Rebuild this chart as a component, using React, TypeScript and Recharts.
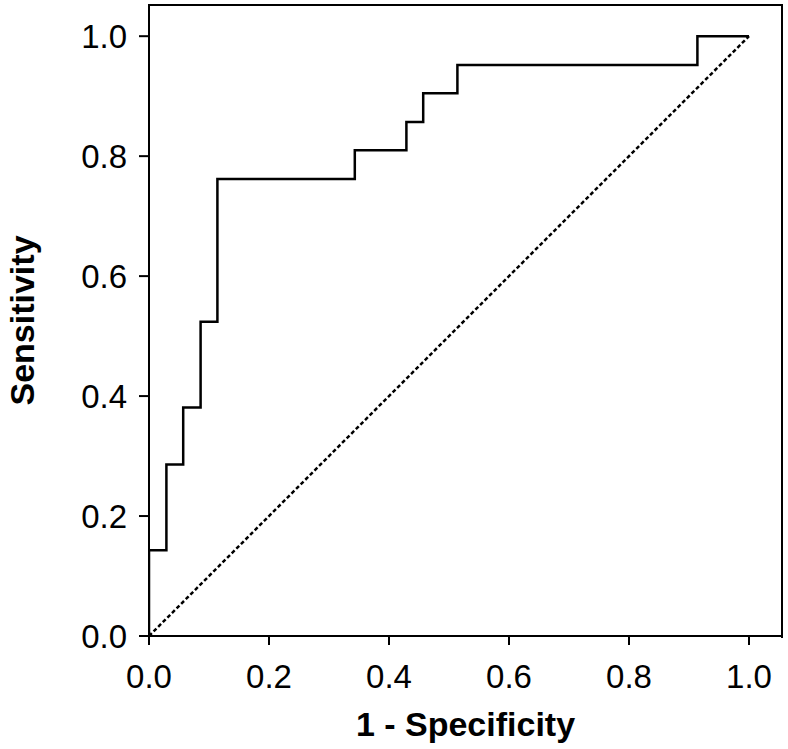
import React from 'react';
import { LineChart, Line, XAxis, YAxis, Label } from 'recharts';

// ROC curve points (1 - specificity, sensitivity)
const fpr = [0, 0, 0.029, 0.057, 0.086, 0.114, 0.343, 0.429, 0.457, 0.514, 0.914, 1.0];
const tpr = [0, 0.143, 0.286, 0.381, 0.524, 0.762, 0.81, 0.857, 0.905, 0.952, 1.0, 1.0];

// reference diagonal
const diagX = [0, 1];
const diagY = [0, 1];

const tickValues = [0, 0.2, 0.4, 0.6, 0.8, 1.0];

const rocData = fpr.map((x, i) => ({ x, y: tpr[i] }));
const diagData = diagX.map((x, i) => ({ x, y: diagY[i] }));

const font = '"Liberation Sans", Arial, sans-serif';
const xMax = 1.055;
const yMax = 1.052;

const App: React.FC = () => {
  return (
    <div style={{ position: 'absolute', left: 0, top: 0, width: 788, height: 749, background: '#fff', fontFamily: font }}>
      <div style={{ position: 'absolute', left: 0, top: 0 }}>
        <LineChart width={788} height={749} margin={{ top: 5, right: 6, left: 0, bottom: 0 }}>
          <XAxis
            type="number"
            dataKey="x"
            domain={[0, xMax]}
            ticks={tickValues}
            allowDataOverflow
            tickFormatter={(v: number) => v.toFixed(1)}
            tick={{ fill: '#000', fontSize: 33, fontFamily: font }}
            tickSize={9}
            tickMargin={20}
            height={113}
            axisLine={{ stroke: '#000', strokeWidth: 2 }}
            tickLine={{ stroke: '#000', strokeWidth: 2 }}
          >
            <Label
              value="1 - Specificity"
              position="insideBottom"
              offset={13}
              style={{ fill: '#000', fontSize: 34, fontWeight: 'bold', fontFamily: font }}
            />
          </XAxis>
          <YAxis
            type="number"
            domain={[0, yMax]}
            ticks={tickValues}
            allowDataOverflow
            tickFormatter={(v: number) => v.toFixed(1)}
            tick={{ fill: '#000', fontSize: 33, fontFamily: font }}
            tickSize={10}
            tickMargin={12}
            width={149}
            axisLine={{ stroke: '#000', strokeWidth: 2 }}
            tickLine={{ stroke: '#000', strokeWidth: 2 }}
          >
            <Label
              value="Sensitivity"
              angle={-90}
              position="insideLeft"
              offset={22}
              style={{ fill: '#000', fontSize: 34, fontWeight: 'bold', fontFamily: font, textAnchor: 'middle' }}
            />
          </YAxis>
          <Line
            data={diagData}
            dataKey="y"
            type="linear"
            stroke="#000"
            strokeWidth={2.5}
            strokeDasharray="4 2.5"
            dot={false}
            isAnimationActive={false}
          />
          <Line
            data={rocData}
            dataKey="y"
            type="stepAfter"
            stroke="#000"
            strokeWidth={2.5}
            dot={false}
            isAnimationActive={false}
          />
        </LineChart>
      </div>
      {/* frame: top and right edges of the plot box */}
      <div
        style={{
          position: 'absolute',
          zIndex: 10,
          left: 148,
          top: 4,
          width: 635,
          height: 634,
          boxSizing: 'border-box',
          borderTop: '2px solid #000',
          borderRight: '2px solid #000',
          pointerEvents: 'none',
        }}
      />
    </div>
  );
};

export default App;
